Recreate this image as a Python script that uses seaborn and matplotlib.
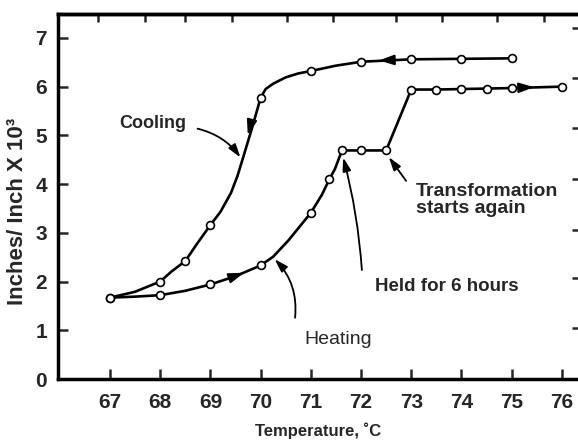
import matplotlib
matplotlib.use('Agg')
import matplotlib.pyplot as plt
import seaborn as sns

# data (temperature in C, inches/inch x 10^3)
heat_t = [67, 68, 69, 70, 71, 71.37, 71.62, 72, 72.5, 73, 73.5, 74, 74.5, 75, 76]
heat_v = [1.67, 1.72, 1.94, 2.33, 3.41, 4.10, 4.69, 4.69, 4.69, 5.94, 5.94, 5.95, 5.96, 5.97, 6.0]
cool_t = [75, 74, 73, 72, 71, 70, 69, 68.5, 68, 67]
cool_v = [6.58, 6.57, 6.56, 6.51, 6.32, 5.77, 3.16, 2.42, 2.0, 1.67]

# extra points (between the circles)
heat_curve_t = [67, 67.5, 68, 68.5, 69, 69.5, 70, 70.25, 70.55, 71, 71.22, 71.37, 71.48, 71.62,
                72, 72.5, 73, 73.5, 74, 74.5, 75, 76]
heat_curve_v = [1.67, 1.69, 1.72, 1.81, 1.94, 2.11, 2.33, 2.51, 2.84, 3.41, 3.78, 4.10, 4.31, 4.69,
                4.69, 4.69, 5.94, 5.94, 5.95, 5.96, 5.97, 6.0]
cool_curve_t = [75, 74, 73, 72, 71.5, 71, 70.75, 70.5, 70.25, 70.1, 70, 69.82, 69.65, 69.54,
                69.41, 69.2, 69, 68.73, 68.5, 68.23, 68, 67.5, 67]
cool_curve_v = [6.58, 6.57, 6.56, 6.51, 6.43, 6.32, 6.27, 6.19, 6.06, 5.95, 5.77, 5.12, 4.54, 4.17,
                3.82, 3.43, 3.16, 2.77, 2.42, 2.21, 2.0, 1.79, 1.67]

x_ticks = [67, 68, 69, 70, 71, 72, 73, 74, 75, 76]
y_ticks = [0, 1, 2, 3, 4, 5, 6, 7]
top_ticks = [66.76, 67.70, 68.49, 69.43, 70.53, 71.45, 72.69, 73.62, 74.70, 75.64]
right_ticks = [7.20, 6.18, 5.15, 4.10, 3.06, 2.07, 1.05]

sns.set_style('ticks')
plt.rcParams['font.family'] = ['Liberation Sans', 'DejaVu Sans']

fig = plt.figure(figsize=(5.78, 4.44), dpi=100)
ax = fig.add_axes([58 / 578, 65 / 444, 522 / 578, 365 / 444])

sns.lineplot(x=heat_curve_t, y=heat_curve_v, sort=False, estimator=None, color='black', lw=1.9, ax=ax)
sns.lineplot(x=cool_curve_t, y=cool_curve_v, sort=False, estimator=None, color='black', lw=1.9, ax=ax)
sns.scatterplot(x=heat_t, y=heat_v, marker='o', s=32, facecolor='white', edgecolor='black',
                linewidth=1.2, zorder=4, ax=ax)
sns.scatterplot(x=cool_t, y=cool_v, marker='o', s=32, facecolor='white', edgecolor='black',
                linewidth=1.2, zorder=4, ax=ax)

ax.set_xlim(65.965, 76.36)
ax.set_ylim(0, 7.49)

# direction arrows on the curves
head = dict(arrowstyle='-|>,head_length=0.9,head_width=0.3', color='black', lw=1.5)
ax.annotate('', xy=(69.72, 2.2), xytext=(69.35, 2.06), arrowprops=head)
ax.annotate('', xy=(72.3, 6.535), xytext=(72.6, 6.545), arrowprops=head)
ax.annotate('', xy=(69.73, 4.95), xytext=(69.81, 5.25), arrowprops=head)
ax.annotate('', xy=(75.5, 5.99), xytext=(75.1, 5.975), arrowprops=head)

# labels with pointer arrows
ptr = dict(arrowstyle='-|>,head_length=0.8,head_width=0.25', color='black', lw=1.3)
ax.text(67.86, 5.25, 'Cooling', fontsize=13, fontweight='bold', ha='center', va='center')
ax.annotate('', xy=(69.63, 4.5), xytext=(68.69, 5.15),
            arrowprops=dict(ptr, connectionstyle='arc3,rad=-0.2'))
ax.text(71.55, 0.82, 'Heating', fontsize=14, ha='center', va='center')
ax.annotate('', xy=(70.24, 2.5), xytext=(70.68, 1.2),
            arrowprops=dict(ptr, connectionstyle='arc3,rad=0.25'))
ax.text(72.28, 1.89, 'Held for 6 hours', fontsize=13.5, fontweight='bold', ha='left', va='center')
ax.annotate('', xy=(71.63, 4.6), xytext=(72.02, 2.18),
            arrowprops=dict(ptr, connectionstyle='arc3,rad=0.05'))
ax.text(73.09, 3.67, 'Transformation\nstarts again', fontsize=14, fontweight='bold',
        ha='left', va='center', linespacing=1.0)
ax.annotate('', xy=(72.52, 4.6), xytext=(72.93, 4.02), arrowprops=ptr)

ax.set_xticks(x_ticks)
ax.set_yticks(y_ticks)
ax.set_xticklabels([str(t) for t in x_ticks], fontweight='bold', fontsize=15)
ax.set_yticklabels([str(t) for t in y_ticks], fontweight='bold', fontsize=15)
ax.tick_params(direction='in', length=7, width=1.8, pad=10)
ax.tick_params(axis='y', pad=8)

ax.set_xlabel('Temperature, \u02daC', fontsize=12, fontweight='bold')
ax.xaxis.set_label_coords(0.498, -0.12)
ax.set_ylabel('Inches/ Inch X 10\u00b3', fontsize=16, fontweight='bold')
ax.yaxis.set_label_coords(-0.058, 0.46)

top = ax.secondary_xaxis('top')
top.set_xticks(top_ticks)
top.set_xticklabels([])
top.tick_params(direction='in', length=6, width=1.8)
right = ax.secondary_yaxis('right')
right.set_yticks(right_ticks)
right.set_yticklabels([])
right.tick_params(direction='in', length=6, width=1.8)

for a in (ax, top, right):
    for s in a.spines.values():
        s.set_linewidth(2.5)
        s.set_color('black')

fig.savefig('out.png', dpi=100)
